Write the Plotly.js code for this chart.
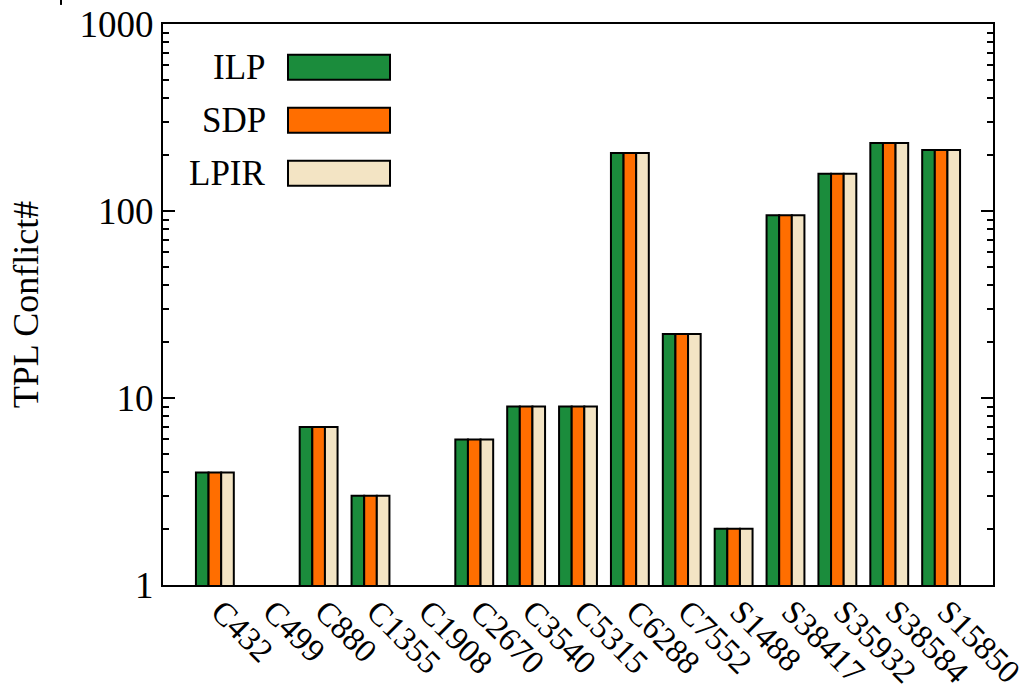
<!DOCTYPE html>
<html>
<head>
<meta charset="utf-8">
<script src="https://cdn.plot.ly/plotly-3.0.1.min.js"></script>
<style>html,body{margin:0;padding:0;background:#fff;}#chart{width:1029px;height:686px;}</style>
</head>
<body>
<div id="chart"></div>
<script>
const categories = ["C432","C499","C880","C1355","C1908","C2670","C3540","C5315","C6288","C7552","S1488","S38417","S35932","S38584","S15850"];
const ilp  = [4, null, 7, 3, null, 6, 9, 9, 204, 22, 2, 95, 158, 231, 212];
const sdp  = [4, null, 7, 3, null, 6, 9, 9, 204, 22, 2, 95, 158, 231, 212];
const lpir = [4, null, 7, 3, null, 6, 9, 9, 204, 22, 2, 95, 158, 231, 212];
const seriesNames = ["ILP", "SDP", "LPIR"];
const seriesColors = ["#1b8c3c", "#ff6e00", "#f3e4c4"];
const seriesValues = [ilp, sdp, lpir];
const yTickVals = [1, 10, 100, 1000];
const yTickText = ["1", "10", "100", "1000"];

const FONT = "Liberation Serif, Times New Roman, serif";

const traces = seriesValues.map((vals, i) => ({
  type: "bar",
  name: seriesNames[i],
  x: categories,
  y: vals,
  marker: {color: seriesColors[i], line: {color: "#000", width: 2}},
  showlegend: false,
  hoverinfo: "x+y+name"
}));

// Custom legend (text left of swatch, like gnuplot)
const shapes = [];
const annotations = [];
const legTop = 0.923, legStep = 0.0945, swH = 0.0446;
seriesNames.forEach((n, i) => {
  const yc = legTop - i * legStep;
  shapes.push({type: "rect", xref: "paper", yref: "paper",
    x0: 0.1506, x1: 0.2735, y0: yc - swH/2, y1: yc + swH/2,
    fillcolor: seriesColors[i], line: {color: "#000", width: 2}});
  annotations.push({xref: "paper", yref: "paper", x: 0.1265, y: yc,
    xanchor: "right", yanchor: "middle", text: n, showarrow: false,
    font: {family: FONT, size: 35, color: "#000"}});
});
// small stray mark at top-left of the figure
shapes.push({type: "line", xref: "paper", yref: "paper",
  x0: -0.1229, x1: -0.1229, y0: 1.034, y1: 1.05, line: {color: "#000", width: 2}});

const layout = {
  width: 1029, height: 686,
  margin: {l: 163, r: 36, t: 24, b: 101},
  paper_bgcolor: "#fff", plot_bgcolor: "#fff",
  barmode: "group", bargap: 0.27, bargroupgap: 0,
  font: {family: FONT, size: 35, color: "#000"},
  xaxis: {
    type: "category", range: [-1, 15],
    tickangle: 45, ticks: "", showgrid: false, zeroline: false,
    showline: true, linecolor: "#000", linewidth: 2, mirror: true,
    ticklabelshift: 6, ticklabelstandoff: -8,
    tickfont: {family: FONT, size: 33, color: "#000"}
  },
  yaxis: {
    type: "log", range: [0, 3],
    tickvals: yTickVals, ticktext: yTickText,
    ticks: "inside", ticklen: 12, tickwidth: 2, tickcolor: "#000",
    minor: {ticks: "inside", ticklen: 6, tickwidth: 2, tickcolor: "#000", dtick: "D1", showgrid: false},
    showgrid: false, zeroline: false,
    showline: true, linecolor: "#000", linewidth: 2, mirror: "ticks",
    tickfont: {family: FONT, size: 37, color: "#000"},
    title: {text: "TPL Conflict#", font: {family: FONT, size: 36, color: "#000"}, standoff: 30}
  },
  shapes: shapes,
  annotations: annotations
};

Plotly.newPlot("chart", traces, layout, {displayModeBar: false, staticPlot: true});
</script>
</body>
</html>
